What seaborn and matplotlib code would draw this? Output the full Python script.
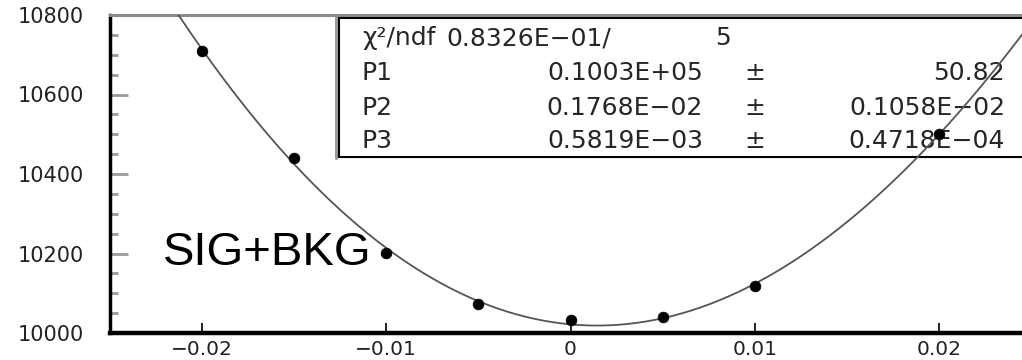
import numpy as np
import matplotlib
matplotlib.use("Agg")
import matplotlib.pyplot as plt
from matplotlib.patches import Rectangle
from matplotlib.lines import Line2D
import seaborn as sns

# ---- data ----
x_points = [-0.02, -0.015, -0.01, -0.005, 0.0, 0.005, 0.01, 0.02]
y_points = [10709, 10440, 10201, 10073, 10033, 10040, 10118, 10500]

x_ticks = [-0.02, -0.01, 0.0, 0.01, 0.02]
x_tick_labels = ["\u22120.02", "\u22120.01", "0", "0.01", "0.02"]
y_ticks = [10000, 10200, 10400, 10600, 10800]
y_tick_labels = ["10000", "10200", "10400", "10600", "10800"]

box_labels = ["P1", "P2", "P3"]
box_values = ["0.1003E+05", "0.1768E\u221202", "0.5819E\u221203"]
box_errors = ["50.82", "0.1058E\u221202", "0.4718E\u221204"]
chi2_label = "\u03c7\u00b2/ndf"
chi2_text = "0.8326E\u221201/"
ndf_text = "5"
annotation = "SIG+BKG"

# ---- figure ----
sns.set_style("white")
plt.rcParams["font.family"] = ["DejaVu Sans"]

W, H = 1022, 360
fig = plt.figure(figsize=(W / 100, H / 100), dpi=100)
fig.patch.set_facecolor("white")

def fx(px):
    return px / W

def fy(py):
    return 1 - py / H

ax = fig.add_axes([fx(110), fy(333), 921 / W, 318 / H])
ax.set_facecolor("white")

# smooth fit through the measured points (the drawn fit curve)
coef = np.polyfit(x_points, y_points, 4)
x_curve = np.linspace(-0.025, 0.025, 400)
y_curve = np.polyval(coef, x_curve)

sns.lineplot(x=x_curve, y=y_curve, ax=ax, color="#555555", linewidth=1.3, zorder=7)
sns.scatterplot(x=x_points, y=y_points, ax=ax, color="black", s=60,
                edgecolor="black", linewidth=0.5, zorder=8)

ax.set_xlim(-0.025, 0.025)
ax.set_ylim(10000, 10800)

ax.set_xticks(x_ticks)
ax.set_xticklabels(x_tick_labels)
ax.set_yticks(y_ticks)
ax.set_yticklabels(y_tick_labels)
ax.set_yticks(np.arange(10000, 10801, 50), minor=True)

ax.tick_params(axis="x", which="major", bottom=True, direction="in", length=7,
               width=1.2, color="black", labelsize=14.5, labelcolor="#222222", pad=5)
ax.tick_params(axis="y", which="major", left=True, direction="in", length=13,
               width=2, color="#9a9a9a", labelsize=15, labelcolor="#222222", pad=19)
ax.tick_params(axis="y", which="minor", left=True, direction="in", length=6,
               width=2, color="#9a9a9a")
ax.set_xlabel("")
ax.set_ylabel("")

ax.spines["left"].set_visible(True)
ax.spines["left"].set_color("black")
ax.spines["left"].set_linewidth(2.5)
ax.spines["bottom"].set_visible(True)
ax.spines["bottom"].set_color("black")
ax.spines["bottom"].set_linewidth(3.2)
ax.spines["top"].set_visible(True)
ax.spines["top"].set_color("#8a8a8a")
ax.spines["top"].set_linewidth(2.2)
ax.spines["right"].set_visible(False)
ax.grid(False)

# ---- stats box (figure pixel coordinates), drawn under the axes ----
ax.set_zorder(6)
ax.patch.set_alpha(0)
fig.add_artist(Line2D([fx(336), fx(336)], [fy(17), fy(158)], color="#9a9a9a",
                      linewidth=2.2, zorder=4))
box = Rectangle((fx(339), fy(157)), fx(1040) - fx(339), (157 - 18) / H,
                transform=fig.transFigure, facecolor="white", edgecolor="black",
                linewidth=1.5, zorder=5)
fig.add_artist(box)

txt_kw = dict(fontsize=18, color="#262626", family=["DejaVu Sans"], zorder=5.5,
              va="baseline")
baselines = [80, 115, 148]
fig.text(fx(362), fy(45), chi2_label, ha="left", **txt_kw)
fig.text(fx(446), fy(45), chi2_text, ha="left", **txt_kw)
fig.text(fx(723), fy(45), ndf_text, ha="center", **txt_kw)
for lab, val, err, b in zip(box_labels, box_values, box_errors, baselines):
    fig.text(fx(362), fy(b), lab, ha="left", **txt_kw)
    fig.text(fx(625), fy(b), val, ha="center", **txt_kw)
    fig.text(fx(755), fy(b), "\u00b1", ha="center", **txt_kw)
    fig.text(fx(1005), fy(b), err, ha="right", **txt_kw)

fig.text(fx(163), fy(265), annotation, ha="left", va="baseline",
         fontsize=34, family=["Liberation Sans", "DejaVu Sans"], color="black",
         zorder=9)

fig.savefig("out.png", dpi=100, facecolor="white")
